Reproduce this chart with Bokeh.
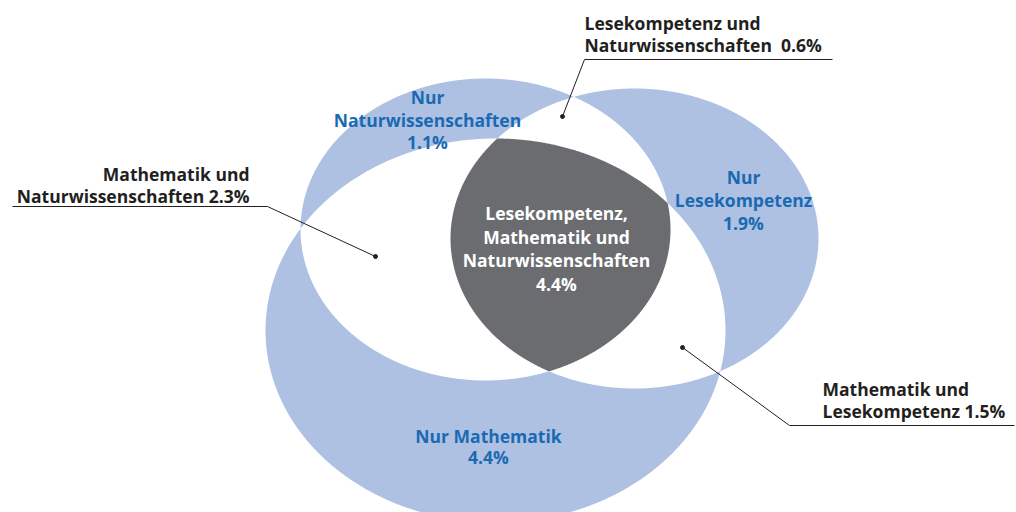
import numpy as np
from bokeh.plotting import figure
from bokeh.models import Range1d
from bokeh.core.properties import value
from bokeh.embed import file_html
from bokeh.resources import INLINE

# ---------------- data ----------------
subjects = ["Naturwissenschaften", "Lesekompetenz", "Mathematik"]
only_shares = [1.1, 1.9, 4.4]                      # Nur ...
pair_names = [["Lesekompetenz und", "Naturwissenschaften"],
              ["Mathematik und", "Naturwissenschaften"],
              ["Mathematik und", "Lesekompetenz"]]
pair_shares = [0.6, 2.3, 1.5]
triple_lines = ["Lesekompetenz,", "Mathematik und", "Naturwissenschaften"]
triple_share = 4.4

def pct(v):
    return f"{v:.1f}%"

# ---------------- geometry (pixel space of the page) ----------------
ELL = {
    "Naturwissenschaften": (485, 229, 185, 151),
    "Lesekompetenz": (634, 238, 184, 150),
    "Mathematik": (495, 330, 230, 192),
}

def boundary(e, n=1440):
    cx, cy, rx, ry = e
    t = np.linspace(0, 2 * np.pi, n, endpoint=False)
    return cx + rx * np.cos(t), cy + ry * np.sin(t)

def inside(e, x, y):
    cx, cy, rx, ry = e
    return ((x - cx) / rx) ** 2 + ((y - cy) / ry) ** 2 <= 1 + 1e-9

def intersection(es):
    xs, ys = [], []
    for i, e in enumerate(es):
        bx, by = boundary(e)
        m = np.ones_like(bx, dtype=bool)
        for j, o in enumerate(es):
            if j != i:
                m &= inside(o, bx, by)
        xs.append(bx[m]); ys.append(by[m])
    x = np.concatenate(xs); y = np.concatenate(ys)
    mx, my = x.mean(), y.mean()
    order = np.argsort(np.arctan2(y - my, x - mx))
    return list(x[order]), list(y[order])

BLUE_FILL = "#AEC1E3"
GREY = "#6B6C70"
BLUE_TXT = "#1A6AB2"
DARK_TXT = "#231F20"
FONT = value("Open Sans")
NBSP = "\u00a0"

p = figure(width=1016, height=512, output_backend="svg", toolbar_location=None,
           x_range=Range1d(0, 1016), y_range=Range1d(512, 0), min_border=0)
p.axis.visible = False
p.grid.visible = False
p.outline_line_color = None
p.background_fill_color = "white"
p.border_fill_color = "white"

# single sets (blue)
for s in subjects:
    bx, by = boundary(ELL[s])
    p.patch(list(bx), list(by), fill_color=BLUE_FILL, line_color=None)

# pairwise intersections (white)
for a, b in [("Naturwissenschaften", "Lesekompetenz"),
             ("Naturwissenschaften", "Mathematik"),
             ("Lesekompetenz", "Mathematik")]:
    x, y = intersection([ELL[a], ELL[b]])
    p.patch(x, y, fill_color="white", line_color=None)

# triple intersection (grey)
x, y = intersection([ELL[s] for s in subjects])
p.patch(x, y, fill_color=GREY, line_color=None)

def txt(xs, ys, texts, color, align="center", size="17.5px"):
    p.text(x=xs, y=ys, text=texts, text_color=color, text_font=FONT,
           text_font_style="bold", text_font_size=size, text_align=align,
           text_baseline="middle")

# region labels inside
txt([427] * 3, [96, 119, 141], ["Nur", subjects[0], pct(only_shares[0])], BLUE_TXT)
txt([743] * 3, [176, 199, 222], ["Nur", subjects[1], pct(only_shares[1])], BLUE_TXT)
txt([488] * 2, [435, 456], ["Nur " + subjects[2], pct(only_shares[2])], BLUE_TXT)
txt([556] * 4, [212, 236, 259, 283], triple_lines + [pct(triple_share)], "white")

# callout labels
txt([584, 584], [22, 44],
    [pair_names[0][0], pair_names[0][1] + NBSP + NBSP + pct(pair_shares[0])], DARK_TXT, align="left")
txt([249, 249], [173, 195],
    [pair_names[1][0], pair_names[1][1] + NBSP + pct(pair_shares[1])], DARK_TXT, align="right")
txt([822, 822], [388, 410],
    [pair_names[2][0], pair_names[2][1] + NBSP + pct(pair_shares[2])], DARK_TXT, align="left")

# leader lines
LINE = "#231F20"
p.line([832, 584, 562], [59, 59, 116], line_color=LINE, line_width=1)
p.line([12, 267, 375], [206, 206, 256], line_color=LINE, line_width=1)
p.line([1014, 789, 682], [425, 425, 347], line_color=LINE, line_width=1)
p.scatter([562, 375, 682], [116, 256, 347], marker="circle", size=4,
          fill_color=LINE, line_color=LINE)

open("out.html", "w").write(file_html(p, INLINE))
